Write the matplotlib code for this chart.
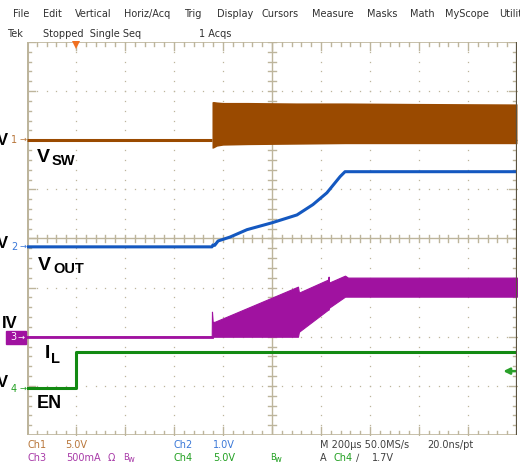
import numpy as np
import matplotlib
matplotlib.use("Agg")
import matplotlib.pyplot as plt

# ---------------- data (physical units) ----------------
# time axis in microseconds (200 us/div, trigger 1 div from left)
t_start, t_end = -200, 1800

# Ch1 VSW switching envelope (V, 5 V/div)
vsw_pre_t = [-200, 555]
vsw_pre_v = [0.0, 0.0]
vsw_t = [555, 560, 575, 600, 700, 900, 1100, 1400, 1800]
vsw_top = [3.9, 3.95, 3.9, 3.85, 3.85, 3.8, 3.8, 3.75, 3.7]
vsw_bot = [-0.8, -0.8, -0.6, -0.5, -0.45, -0.4, -0.35, -0.35, -0.35]

# Ch2 VOUT (V, 1 V/div)
vout_t = [-200, 555, 559, 566, 580, 629, 698, 800, 902, 967, 1024, 1078, 1098, 1800]
vout_v = [0.0, 0.0, 0.04, 0.03, 0.12, 0.20, 0.35, 0.49, 0.65, 0.86, 1.10, 1.43, 1.53, 1.53]

# Ch3 IL envelope (mA, 500 mA/div)
il_t = [-200, 554, 555, 558, 567, 906, 910, 1029, 1031, 1033, 1098, 1110, 1800]
il_top = [0, 0, 255, 150, 153, 510, 449, 582, 612, 551, 622, 602, 602]
il_bot = [0, 0, 0, 0, 0, 0, 51, 276, 276, 296, 408, 408, 408]

# Ch4 EN (V, 5 V/div)
en_t = [-200, 0, 0, 1800]
en_v = [0.0, 0.0, 3.67, 3.67]

# channel scales (units/div) and ground offsets (div from centre)
scale = {"ch1": 5.0, "ch2": 1.0, "ch3": 500.0, "ch4": 5.0}
offset = {"ch1": 2.0, "ch2": -0.17, "ch3": -2.0, "ch4": -3.04}
trig_level = 1.7

col = {"ch1": "#9a4a00", "ch2": "#1458c0", "ch3": "#a012a0", "ch4": "#128a12"}
tcol = {"ch1": "#b8763a", "ch2": "#3a78d8", "ch3": "#a83aa8", "ch4": "#22a022"}

# ---------------- figure ----------------
W, H = 520, 473
fig = plt.figure(figsize=(W / 100, H / 100), dpi=100)
fig.patch.set_facecolor("white")
L, R, T, B = 27, 517, 42, 435
ax = fig.add_axes([L / W, 1 - B / H, (R - L) / W, (B - T) / H])
ax.set_xlim(t_start, t_end)
ax.set_ylim(-4, 4)
ax.axis("off")

def dv(ch, vals):
    return offset[ch] + np.asarray(vals, dtype=float) / scale[ch]

# graticule
gcol = "#bdb59c"
tdiv = (t_end - t_start) / 10.0
def tx(d):
    return t_start + d * tdiv
sub = np.arange(0, 40 + 1) * 0.2 - 4
subx = np.array([tx(k * 0.2) for k in range(51)])
for k in range(1, 10):
    if k == 5:
        continue
    ax.plot(np.full(sub.size, tx(k)), sub, ls="", marker="s", ms=0.9, color=gcol, mew=0, zorder=1)
for l in range(-3, 4):
    if l == 0:
        continue
    ax.plot(subx, np.full(subx.size, l), ls="", marker="s", ms=0.9, color=gcol, mew=0, zorder=1)
# centre cross
ax.plot([tx(5), tx(5)], [-4, 4], color=gcol, lw=1.0, zorder=1)
ax.plot([t_start, t_end], [0, 0], color=gcol, lw=1.0, zorder=1)
tk_t = 0.08 * tdiv
tk_d = 0.08
for y in sub:
    ax.plot([tx(5) - tk_t, tx(5) + tk_t], [y, y], color=gcol, lw=1.0, zorder=1)
for x in subx:
    ax.plot([x, x], [-tk_d, tk_d], color=gcol, lw=1.0, zorder=1)
# frame edge ticks
for i, x in enumerate(subx):
    ln = 0.16 if i % 5 == 0 else 0.08
    ax.plot([x, x], [4, 4 - ln], color=gcol, lw=1.0, zorder=1)
    ax.plot([x, x], [-4, -4 + ln], color=gcol, lw=1.0, zorder=1)
for j, y in enumerate(sub):
    ln = 0.16 if j % 5 == 0 else 0.08
    ax.plot([t_start, t_start + ln * tdiv], [y, y], color=gcol, lw=1.0, zorder=1)
    ax.plot([t_end, t_end - ln * tdiv], [y, y], color=gcol, lw=1.0, zorder=1)
ax.plot([t_start, t_end], [4, 4], color=gcol, lw=1.2, zorder=1)
ax.plot([t_start, t_end], [-4, -4], color=gcol, lw=1.2, zorder=1)
ax.plot([t_start, t_start], [-4, 4], color=gcol, lw=2.2, zorder=1)
ax.plot([t_end, t_end], [-4, 4], color="#5a5240", lw=1.6, zorder=6)

# traces
ax.plot(vsw_pre_t, dv("ch1", vsw_pre_v), color=col["ch1"], lw=2.2, solid_capstyle="butt", zorder=4)
ax.fill_between(vsw_t, dv("ch1", vsw_bot), dv("ch1", vsw_top), color=col["ch1"], lw=0, zorder=4)
ax.plot(vout_t, dv("ch2", vout_v), color=col["ch2"], lw=2.2, zorder=4)
ax.fill_between(il_t, dv("ch3", il_bot), dv("ch3", il_top), color=col["ch3"], lw=0.8,
                edgecolor=col["ch3"], zorder=4)
ax.plot(il_t[:2], dv("ch3", il_top[:2]), color=col["ch3"], lw=2.0, zorder=4)
ax.plot(en_t, dv("ch4", en_v), color=col["ch4"], lw=2.2, zorder=4)

# trigger position marker (top) and trigger level arrow (right)
ax.plot([0], [3.93], marker="v", ms=6, color="#f07020", mew=0, clip_on=False, zorder=5)
ylev = dv("ch4", [trig_level])[0]
ax.annotate("", xy=(t_end - 0.28 * tdiv, ylev), xytext=(t_end - 0.03 * tdiv, ylev),
            annotation_clip=False,
            arrowprops=dict(arrowstyle="-|>", color="#2aa02a", lw=1.8, mutation_scale=9,
                            shrinkA=0, shrinkB=0), zorder=5)

# ---------------- text ----------------
def ft(x, y, s, **kw):
    kw.setdefault("fontsize", 7)
    kw.setdefault("va", "center")
    kw.setdefault("family", "DejaVu Sans")
    fig.text(x / W, 1 - y / H, s, **kw)

menu = [("File", 13), ("Edit", 43), ("Vertical", 75), ("Horiz/Acq", 124), ("Trig", 184),
        ("Display", 217), ("Cursors", 261), ("Measure", 312), ("Masks", 367),
        ("Math", 410), ("MyScope", 445), ("Utilit", 499)]
for s, x in menu:
    ft(x, 14, s, color="#303030")
ft(7, 34, "Tek", color="#303030")
ft(43, 34, "Stopped  Single Seq", color="#303030")
ft(199, 34, "1 Acqs", color="#303030")

# bottom status
ft(27, 445, "Ch1", color=tcol["ch1"])
ft(65, 445, "5.0V", color=tcol["ch1"])
ft(173, 445, "Ch2", color=tcol["ch2"])
ft(213, 445, "1.0V", color=tcol["ch2"])
ft(320, 445, "M 200\u00b5s 50.0MS/s", color="#404040")
ft(427, 445, "20.0ns/pt", color="#404040")
ft(27, 458, "Ch3", color=tcol["ch3"])
ft(66, 458, "500mA", color=tcol["ch3"])
ft(108, 458, "\u03a9", color=tcol["ch3"])
ft(123, 457, "B", color=tcol["ch3"], fontsize=6)
ft(128, 459, "w", color=tcol["ch3"], fontsize=6)
ft(173, 458, "Ch4", color=tcol["ch4"])
ft(213, 458, "5.0V", color=tcol["ch4"])
ft(270, 457, "B", color=tcol["ch4"], fontsize=6)
ft(275, 459, "w", color=tcol["ch4"], fontsize=6)
ft(320, 458, "A", color="#404040")
ft(333, 458, "Ch4", color=tcol["ch4"])
ft(356, 458, "\u2215", color="#404040")
ft(372, 458, "1.7V", color="#404040")

# channel ground markers on left
def chmark(ch, num, ypix, box=False):
    if box:
        fig.patches.append(plt.Rectangle((6 / W, 1 - 344 / H), 20 / W, 13 / H,
                                         transform=fig.transFigure, color=col[ch]))
        ft(13, ypix, num, color="white", fontsize=7, ha="center")
        ft(21, ypix, "\u2192", color="white", fontsize=6, ha="center")
    else:
        ft(14, ypix + 1, num, color=tcol[ch], fontsize=7, ha="center")
        ft(23, ypix, "\u2192", color=tcol[ch], fontsize=6, ha="center")

chmark("ch1", "1", 139)
chmark("ch2", "2", 246)
chmark("ch3", "3", 337, box=True)
chmark("ch4", "4", 388)

lab = dict(family="Liberation Sans", weight="bold", color="black", va="baseline")
ft(8, 145, "V", ha="right", fontsize=12, **lab)
ft(8, 248, "V", ha="right", fontsize=12, **lab)
ft(18, 328, "IV", ha="right", fontsize=12, **lab)
ft(8, 387, "V", ha="right", fontsize=12, **lab)

ft(37, 162, "V", fontsize=14, **lab)
ft(52, 165, "SW", fontsize=10.5, **lab)
ft(38, 270, "V", fontsize=14, **lab)
ft(53, 273, "OUT", fontsize=10.5, **lab)
ft(45, 358, "I", fontsize=14, **lab)
ft(51, 363, "L", fontsize=10.5, **lab)
ft(37, 408, "EN", fontsize=13, **lab)

fig.savefig("out.png", dpi=100)
